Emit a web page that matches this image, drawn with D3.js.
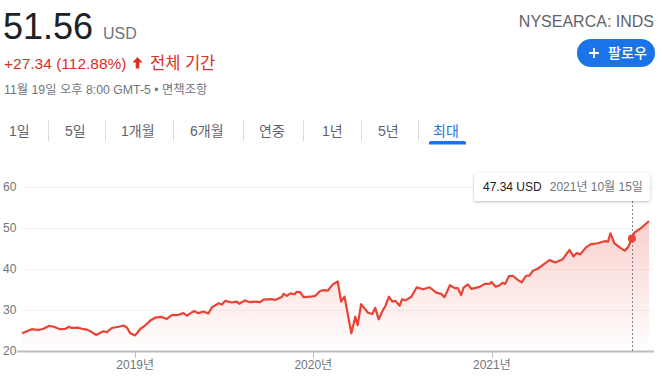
<!DOCTYPE html>
<html><head><meta charset="utf-8">
<script src="https://cdn.jsdelivr.net/npm/d3@7"></script>
<style>
html,body{margin:0;padding:0;background:#fff;}
svg{display:block;font-family:"Liberation Sans",Arial,"Noto Sans CJK KR",sans-serif;}
</style></head>
<body>
<svg id="c" width="662" height="381"></svg>
<script>
const dates = ["2018-05-14","2018-06-03","2018-06-17","2018-06-27","2018-07-08","2018-07-18","2018-07-31","2018-08-11","2018-08-18","2018-08-24","2018-09-04","2018-09-14","2018-09-24","2018-10-04","2018-10-13","2018-10-21","2018-10-28","2018-11-04","2018-11-14","2018-11-28","2018-12-08","2018-12-15","2018-12-22",
"2019-01-01","2019-01-11","2019-01-21","2019-02-01","2019-02-11","2019-02-23","2019-03-07","2019-03-17","2019-03-31","2019-04-10","2019-04-17","2019-05-01","2019-05-11","2019-05-21","2019-05-31","2019-06-07","2019-06-21","2019-06-28","2019-07-04","2019-07-18","2019-07-28","2019-08-02","2019-08-14","2019-08-23","2019-09-04","2019-09-14","2019-09-21","2019-10-08","2019-10-15","2019-10-29","2019-11-01","2019-11-08","2019-11-15","2019-11-24","2019-11-28","2019-12-05","2019-12-12","2019-12-26",
"2020-01-05","2020-01-15","2020-01-22","2020-01-31","2020-02-10","2020-02-20","2020-02-27","2020-03-05","2020-03-19","2020-03-27","2020-04-01","2020-04-08","2020-04-22","2020-05-01","2020-05-07","2020-05-14","2020-05-23","2020-05-28","2020-06-04","2020-06-11","2020-06-17","2020-06-26","2020-07-01","2020-07-08","2020-07-20","2020-07-31","2020-08-13","2020-08-26","2020-09-09","2020-09-19","2020-09-26","2020-10-07","2020-10-17","2020-10-23","2020-10-30","2020-11-04","2020-11-13","2020-11-20","2020-12-07","2020-12-17","2020-12-27","2020-12-31",
"2021-01-09","2021-01-17","2021-01-23","2021-01-28","2021-02-05","2021-02-13","2021-02-23","2021-03-03","2021-03-12","2021-03-19","2021-03-26","2021-04-05","2021-04-15","2021-04-29","2021-05-11","2021-05-26","2021-06-09","2021-06-17","2021-06-24","2021-07-01","2021-07-13","2021-07-23","2021-08-06","2021-08-20","2021-08-27","2021-09-01","2021-09-09","2021-09-20","2021-09-30","2021-10-07","2021-10-15","2021-10-20","2021-11-03","2021-11-16","2021-11-19"];
const prices = [24.3,25.3,25.1,25.4,26.1,25.9,25.3,25.4,25.9,25.6,25.7,25.4,25.2,24.6,23.9,24.4,24.8,24.6,25.6,25.9,26.2,25.7,24.3,
23.8,25.3,26.2,27.4,28.1,28.3,27.8,28.7,28.8,29.2,28.6,29.7,29.2,29.6,29.1,30.6,31.6,31.3,32.2,31.8,32.0,31.5,32.3,31.9,32.0,31.9,32.5,32.6,32.4,33.2,33.9,33.4,34.0,33.8,34.4,34.3,33.1,33.2,
33.4,34.6,34.8,34.7,36.2,36.9,32.0,33.2,24.3,28.3,26.3,31.4,29.3,29.0,30.5,27.7,30.0,31.0,33.2,32.0,32.2,31.0,32.6,32.3,33.2,35.5,35.0,35.5,34.2,33.9,33.1,36.0,35.3,35.3,33.6,35.4,36.2,35.1,35.6,36.3,36.3,36.8,
35.6,36.0,36.6,36.3,38.2,38.3,37.3,36.7,38.3,38.3,39.5,40.0,40.9,42.1,41.5,42.3,44.6,43.0,43.8,43.5,45.2,46.0,46.2,46.7,46.6,48.6,46.2,45.2,44.4,45.2,47.34,48.8,49.9,51.3,51.56];
const yTicks = [20,30,40,50,60];
const xTickYears = ["2019-01-01","2020-01-01","2021-01-01"];
const xTickLabels = ["2019년","2020년","2021년"];
const tabs = ["1일","5일","1개월","6개월","연중","1년","5년","최대"];
const hoverDate = "2021-10-15";
const hoverPrice = 47.34;

const parse = d3.timeParse("%Y-%m-%d");
const data = dates.map((d,i)=>({date:parse(d), v:prices[i]}));
const svg = d3.select("#c");
const red = "#e94335";
const gray = "#70757a";

// Header
svg.append("text").attr("x",3).attr("y",39).attr("font-size",36).attr("fill","#202124").text("51.56");
svg.append("text").attr("x",103).attr("y",39).attr("font-size",16).attr("fill",gray).text("USD");
svg.append("text").attr("x",4).attr("y",69).attr("font-size",15.5).attr("fill","#d93025").text("+27.34 (112.88%)");
svg.append("path").attr("d","M137.5,57 L142.5,62.5 L139.3,62.5 L139.3,68.5 L135.7,68.5 L135.7,62.5 L132.5,62.5 Z").attr("fill","#d93025");
svg.append("text").attr("x",150).attr("y",69).attr("font-size",16.5).attr("fill","#d93025").text("전체 기간");
svg.append("text").attr("x",4).attr("y",94).attr("font-size",12.3).attr("fill",gray).text("11월 19일 오후 8:00 GMT-5 • 면책조항");

svg.append("text").attr("x",654).attr("y",27).attr("font-size",16).attr("fill","#5f6368").attr("text-anchor","end").text("NYSEARCA: INDS");
svg.append("rect").attr("x",577).attr("y",39).attr("width",78).attr("height",28).attr("rx",14).attr("fill","#1a73e8");
svg.append("path").attr("d","M589,53 H599 M594,48 V58").attr("stroke","#fff").attr("stroke-width",1.8);
svg.append("text").attr("x",608).attr("y",58).attr("font-size",14.2).attr("font-weight",500).attr("fill","#fff").text("팔로우");

// Tabs
const tabX = [9,65,121,190,259,322,378,433];
const sepX = [48,105,173,243,303,361,418];
tabs.forEach((t,i)=>{
  svg.append("text").attr("x",tabX[i]).attr("y",136).attr("font-size",14)
    .attr("fill", i===tabs.length-1 ? "#1a73e8" : "#5f6368").text(t);
});
sepX.forEach(x=>svg.append("line").attr("x1",x+0.5).attr("x2",x+0.5).attr("y1",120).attr("y2",141).attr("stroke","#dadce0"));
svg.append("path").attr("d","M429,144.5 V142.5 Q429,141 431,141 H464 Q466,141 466,142.5 V144.5 Z").attr("fill","#1a73e8");

// Chart
const x = d3.scaleTime().domain(d3.extent(data,d=>d.date)).range([22,649]);
const y = d3.scaleLinear().domain([20,60]).range([351,186.5]);

svg.append("g").selectAll("line").data(yTicks.slice(1)).join("line")
  .attr("x1",22).attr("x2",654).attr("y1",d=>Math.round(y(d))+0.5).attr("y2",d=>Math.round(y(d))+0.5)
  .attr("stroke","#f3f3f3");
svg.append("g").selectAll("text").data(yTicks).join("text")
  .attr("x",3).attr("y",d=>y(d)+4.3).attr("font-size",12).attr("fill",gray).text(d=>d);

const defs = svg.append("defs");
const grad = defs.append("linearGradient").attr("id","g").attr("gradientUnits","userSpaceOnUse")
  .attr("x1",0).attr("x2",0).attr("y1",y(d3.max(prices))).attr("y2",y(20));
grad.append("stop").attr("offset",0).attr("stop-color",red).attr("stop-opacity",0.25);
grad.append("stop").attr("offset",1).attr("stop-color",red).attr("stop-opacity",0);
const shadow = defs.append("filter").attr("id","sh").attr("x","-10%").attr("y","-30%").attr("width","120%").attr("height","170%");
shadow.append("feDropShadow").attr("dx",0).attr("dy",1).attr("stdDeviation",1.5).attr("flood-color","#000").attr("flood-opacity",0.25);

svg.append("path").datum(data)
  .attr("d", d3.area().x(d=>x(d.date)).y0(y(20)).y1(d=>y(d.v)))
  .attr("fill","url(#g)");
svg.append("path").datum(data)
  .attr("d", d3.line().x(d=>x(d.date)).y(d=>y(d.v)))
  .attr("fill","none").attr("stroke",red).attr("stroke-width",2.2).attr("stroke-linejoin","round");

svg.append("line").attr("x1",17).attr("x2",654).attr("y1",351.5).attr("y2",351.5).attr("stroke","#bdbdbd").attr("stroke-width",2);
const xt = xTickYears.map(parse);
svg.append("g").selectAll("line").data(xt).join("line")
  .attr("x1",d=>Math.round(x(d))+0.5).attr("x2",d=>Math.round(x(d))+0.5).attr("y1",351).attr("y2",358)
  .attr("stroke","#bdbdbd").attr("stroke-width",1);
svg.append("g").selectAll("text").data(xt).join("text")
  .attr("x",d=>x(d)).attr("y",369).attr("font-size",12).attr("fill",gray).attr("text-anchor","middle")
  .text((d,i)=>xTickLabels[i]);

const hx = x(parse(hoverDate)), hy = y(hoverPrice);
svg.append("line").attr("x1",Math.round(hx)+0.5).attr("x2",Math.round(hx)+0.5).attr("y1",201).attr("y2",351)
  .attr("stroke","#80868b").attr("stroke-dasharray","2,2");
svg.append("circle").attr("cx",hx).attr("cy",hy).attr("r",4).attr("fill",red);
svg.append("rect").attr("x",474).attr("y",173).attr("width",176).attr("height",28).attr("rx",2)
  .attr("fill","#fff").attr("filter","url(#sh)");
const tt = svg.append("text").attr("x",483).attr("y",191).attr("font-size",12);
tt.append("tspan").attr("fill","#202124").attr("font-weight",500).text(hoverPrice.toFixed(2)+" USD");
tt.append("tspan").attr("fill",gray).attr("dx",8).text("2021년 10월 15일");
</script>
</body></html>
